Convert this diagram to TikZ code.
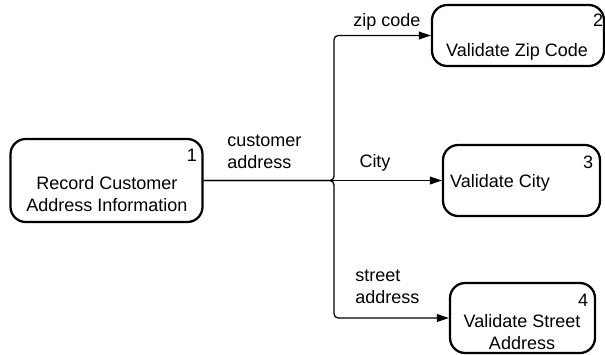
\documentclass[tikz,border=0pt]{standalone}
\usepackage{fontspec}
\setmainfont{Liberation Sans}
\usetikzlibrary{arrows.meta,positioning}

\begin{document}
\begin{tikzpicture}[
        procbox/.style={draw, line width=1.6pt, rounded corners=0.38cm, inner sep=0pt},
        txt/.style={font=\fontsize{12.8}{15.6}\selectfont, inner sep=0pt, align=center},
        num/.style={font=\fontsize{12.8}{15.6}\selectfont, inner sep=0pt},
        flow/.style={line width=0.9pt, rounded corners=3pt},
        >={Triangle[length=8.5pt,width=5.5pt]}
      ]
        \useasboundingbox (0,0) rectangle (15.125,-8.85);
        % processes
        \node[procbox, minimum width=4.8cm, minimum height=2.075cm] (p1) at (2.6625,-4.5125) {};
        \node[procbox, minimum width=4.3cm, minimum height=1.525cm] (p2) at (12.95,-0.8875) {};
        \node[procbox, minimum width=3.925cm, minimum height=1.775cm] (p3) at (13.0375,-4.5125) {};
        \node[procbox, minimum width=3.625cm, minimum height=1.75cm] (p4) at (13.0625,-7.95) {};
        \node[num] (n1) at (4.8,-3.875) {1};
        \node[num] (n2) at (14.95,-0.5) {2};
        \node[num] (n3) at (14.7,-4.05) {3};
        \node[num] (n4) at (14.575,-7.5) {4};
        \node[txt] (t1) at (2.675,-4.85) {Record Customer\\Address Information};
        \node[txt] (t2) at (12.925,-1.3) {Validate Zip Code};
        \node[txt] (t3) at (12.5,-4.575) {Validate City};
        \node[txt] (t4) at (13.05,-8.3125) {Validate Street\\Address};
        % flows
        \coordinate (j) at (8.35,-4.5125);
        \draw[flow,->] (p1.east) -- (p3.west);
        \draw[flow,->] (p1.east) -- (j) |- (p2.west);
        \draw[flow,->] (p1.east) -- (j) |- (p4.west);
        \node[txt, anchor=west, align=left] (l1) at (5.675,-3.8) {customer\\address};
        \node[txt] (l2) at (9.675,-0.55) {zip code};
        \node[txt] (l3) at (9.375,-4.075) {City};
        \node[txt, anchor=west, align=left] (l4) at (8.875,-7.1625) {street\\address};
      \end{tikzpicture}
\end{document}
